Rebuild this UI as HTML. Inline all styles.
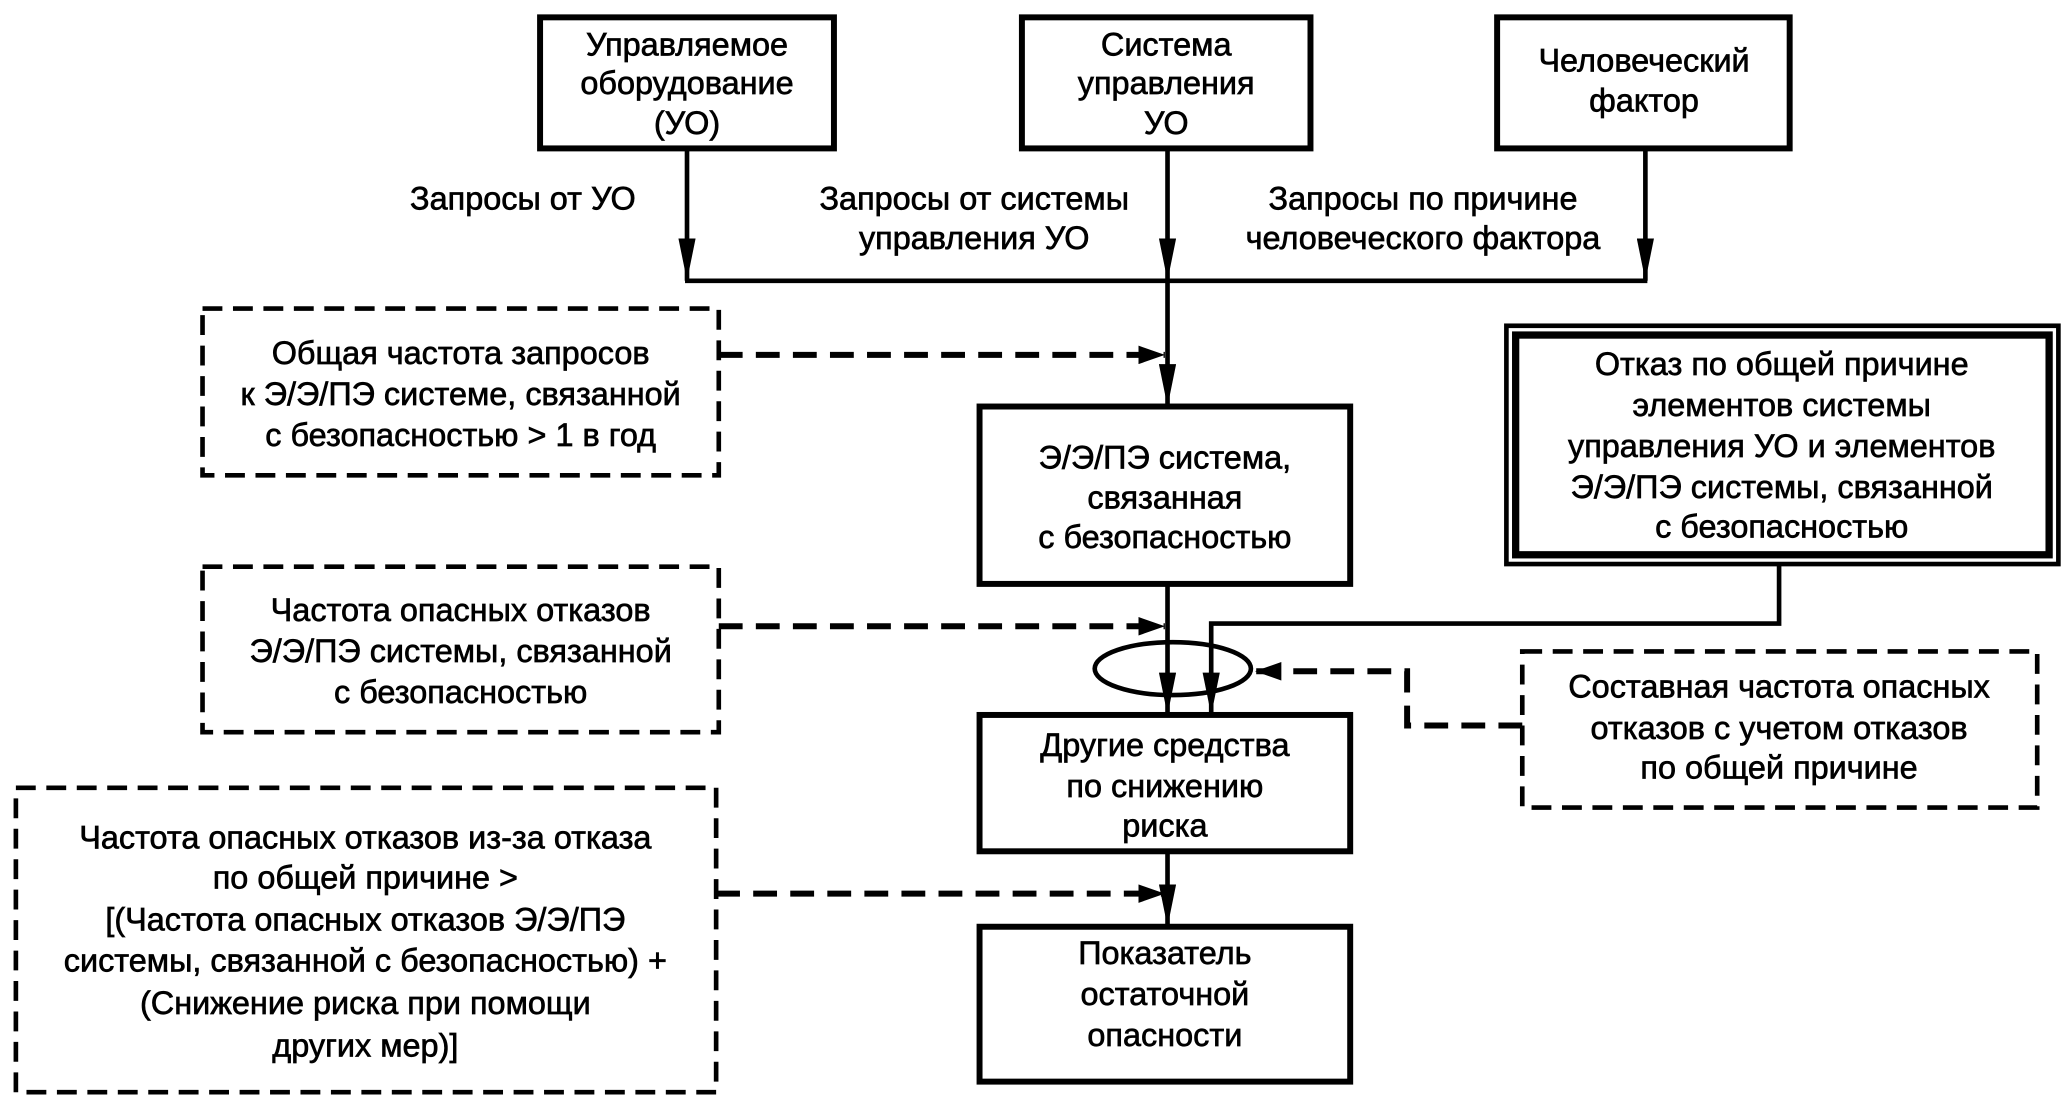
<!DOCTYPE html>
<html><head><meta charset="utf-8"><style>
html,body{margin:0;padding:0;background:#fff;}
svg{display:block}
text{font-family:"Liberation Sans",Arial,sans-serif;font-size:24.5px;fill:#000;stroke:#000;stroke-width:0.5px;text-anchor:middle}
</style></head><body>
<svg width="2065" height="1095" viewBox="0 0 1560 827" xmlns="http://www.w3.org/2000/svg">
<defs>
<marker id="a" markerWidth="20" markerHeight="14" refX="20" refY="7" orient="auto" markerUnits="userSpaceOnUse" viewBox="0 0 20 14">
<path d="M0,0 L20,7 L0,14 z" fill="#000"/></marker>
<marker id="d" markerWidth="32" markerHeight="13" refX="32" refY="6.5" orient="auto" markerUnits="userSpaceOnUse" viewBox="0 0 32 13">
<path d="M0,0 L32,6.5 L0,13 z" fill="#000"/></marker>
</defs>
<g fill="none" stroke="#000">
<rect x="408" y="13" width="222" height="99" stroke-width="4.5"/>
<rect x="772" y="13" width="218" height="99" stroke-width="4.5"/>
<rect x="1131" y="13" width="221" height="99" stroke-width="4.5"/>
<line x1="519" y1="112" x2="519" y2="212" stroke-width="3.5" marker-end="url(#d)"/>
<line x1="882" y1="112" x2="882" y2="212" stroke-width="3.5" marker-end="url(#d)"/>
<line x1="1243" y1="112" x2="1243" y2="212" stroke-width="3.5" marker-end="url(#d)"/>
<line x1="517.5" y1="212" x2="1244.5" y2="212" stroke-width="3.5"/>
<line x1="882" y1="212" x2="882" y2="307" stroke-width="3.5" marker-end="url(#d)"/>
<rect x="153" y="233" width="390" height="126" stroke-width="3.5" stroke-dasharray="15,8"/>
<rect x="153" y="428" width="390" height="125" stroke-width="3.5" stroke-dasharray="15,8"/>
<rect x="12" y="595" width="529" height="230" stroke-width="3.5" stroke-dasharray="15,8"/>
<rect x="1150" y="492" width="389" height="118" stroke-width="3.5" stroke-dasharray="15,8"/>
<line x1="543" y1="268" x2="880" y2="268" stroke-width="4.5" stroke-dasharray="18,10" marker-end="url(#a)"/>
<line x1="543" y1="473" x2="880" y2="473" stroke-width="4.5" stroke-dasharray="18,10" marker-end="url(#a)"/>
<line x1="541" y1="675" x2="880" y2="675" stroke-width="4.5" stroke-dasharray="18,10" marker-end="url(#a)"/>
<polyline points="1150,548 1063,548 1063,507 948,507" stroke-width="4.5" stroke-dasharray="18,10" marker-end="url(#a)"/>
<rect x="740" y="307" width="280" height="134" stroke-width="4.5"/>
<rect x="740" y="540" width="280" height="103" stroke-width="4.5"/>
<rect x="740" y="700" width="280" height="117" stroke-width="4.5"/>
<rect x="1138" y="246" width="417" height="180" stroke-width="3.5"/>
<rect x="1145" y="253" width="403" height="166" stroke-width="5.5"/>
<line x1="882" y1="441" x2="882" y2="540" stroke-width="3.5" marker-end="url(#d)"/>
<polyline points="1344,426 1344,471 915,471 915,540" stroke-width="3.5" marker-end="url(#d)"/>
<ellipse cx="886" cy="505" rx="59" ry="20" stroke-width="3.5"/>
<line x1="882" y1="643" x2="882" y2="700" stroke-width="3.5" marker-end="url(#d)"/>
</g>
<text x="519" y="42">Управляемое</text>
<text x="519" y="71">оборудование</text>
<text x="519" y="101">(УО)</text>
<text x="881" y="42">Система</text>
<text x="881" y="71">управления</text>
<text x="881" y="101">УО</text>
<text x="1242" y="54">Человеческий</text>
<text x="1242" y="84">фактор</text>
<text x="395" y="158">Запросы от УО</text>
<text x="736" y="158">Запросы от системы</text>
<text x="736" y="188">управления УО</text>
<text x="1075" y="158">Запросы по причине</text>
<text x="1075" y="188">человеческого фактора</text>
<text x="348" y="275">Общая частота запросов</text>
<text x="348" y="306">к Э/Э/ПЭ системе, связанной</text>
<text x="348" y="337">с безопасностью &gt; 1 в год</text>
<text x="880" y="354">Э/Э/ПЭ система,</text>
<text x="880" y="384">связанная</text>
<text x="880" y="414">с безопасностью</text>
<text x="1346" y="283">Отказ по общей причине</text>
<text x="1346" y="314">элементов системы</text>
<text x="1346" y="345">управления УО и элементов</text>
<text x="1346" y="376">Э/Э/ПЭ системы, связанной</text>
<text x="1346" y="406">с безопасностью</text>
<text x="348" y="469">Частота опасных отказов</text>
<text x="348" y="500">Э/Э/ПЭ системы, связанной</text>
<text x="348" y="531">с безопасностью</text>
<text x="1344" y="527">Составная частота опасных</text>
<text x="1344" y="558">отказов с учетом отказов</text>
<text x="1344" y="588">по общей причине</text>
<text x="880" y="571">Другие средства</text>
<text x="880" y="602">по снижению</text>
<text x="880" y="632">риска</text>
<text x="276" y="641">Частота опасных отказов из-за отказа</text>
<text x="276" y="671">по общей причине &gt;</text>
<text x="276" y="703">[(Частота опасных отказов Э/Э/ПЭ</text>
<text x="276" y="734">системы, связанной с безопасностью) +</text>
<text x="276" y="766">(Снижение риска при помощи</text>
<text x="276" y="798">других мер)]</text>
<text x="880" y="728">Показатель</text>
<text x="880" y="759">остаточной</text>
<text x="880" y="790">опасности</text>
</svg>
</body></html>
